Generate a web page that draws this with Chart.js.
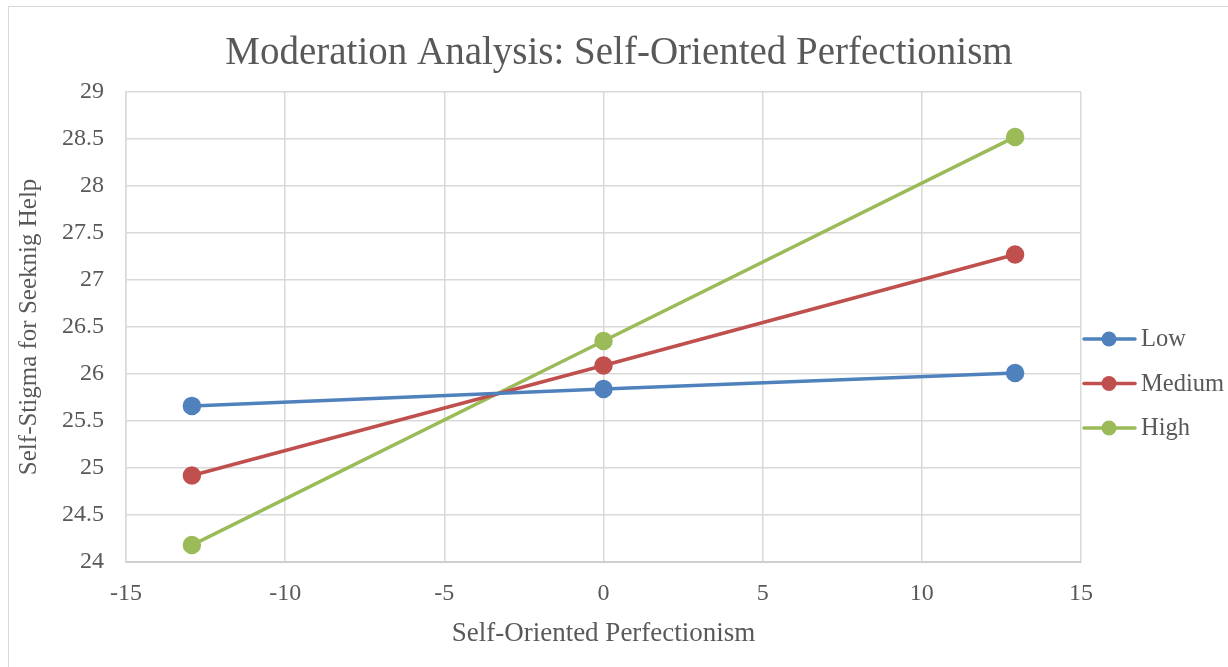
<!DOCTYPE html>
<html lang="en">
<head>
    <meta charset="UTF-8">
    <title>Moderation Analysis</title>
    <script src="https://cdn.jsdelivr.net/npm/chart.js"></script>
    <style>
        html, body { margin: 0; padding: 0; background: #fff; }
        .frame {
            position: absolute; left: 8px; top: 6px; width: 1240px; height: 680px;
            border: 1px solid #d9d9d9; box-sizing: border-box;
        }
        .wrap { position: absolute; left: 0; top: 0; width: 1228px; height: 667px; }
    </style>
</head>
<body>
    <div class="frame"></div>
    <div class="wrap"><canvas id="chart" width="1228" height="667"></canvas></div>

    <script>
        // Data
        const seriesNames = ['Low', 'Medium', 'High'];
        const xValues = [-12.93, 0, 12.93];
        const lowValues = [25.66, 25.84, 26.01];
        const mediumValues = [24.92, 26.09, 27.27];
        const highValues = [24.18, 26.35, 28.52];
        const colors = ['#4F81BD', '#C0504D', '#9BBB59'];

        const FONT = "'Liberation Serif', 'DejaVu Serif', serif";
        const TEXT = '#595959';

        function points(ys) {
            return xValues.map((x, i) => ({ x: x, y: ys[i] }));
        }

        // Excel-style legend: short line with a dot, label to the right
        const sideLegend = {
            id: 'sideLegend',
            afterDraw(chart) {
                const ctx = chart.ctx;
                ctx.save();
                chart.data.datasets.forEach((ds, i) => {
                    const y = 339 + i * 44.5;
                    ctx.strokeStyle = ds.borderColor;
                    ctx.lineWidth = 3.5;
                    ctx.lineCap = 'round';
                    ctx.beginPath();
                    ctx.moveTo(1084, y);
                    ctx.lineTo(1135, y);
                    ctx.stroke();
                    ctx.fillStyle = ds.borderColor;
                    ctx.beginPath();
                    ctx.arc(1109, y, 7.5, 0, Math.PI * 2);
                    ctx.fill();
                    ctx.fillStyle = TEXT;
                    ctx.font = '24.5px ' + FONT;
                    ctx.textBaseline = 'middle';
                    ctx.fillText(ds.label, 1141, y + 1);
                });
                ctx.restore();
            }
        };

        const ctx = document.getElementById('chart').getContext('2d');
        new Chart(ctx, {
            type: 'scatter',
            data: {
                datasets: [lowValues, mediumValues, highValues].map((ys, i) => ({
                    label: seriesNames[i],
                    data: points(ys),
                    showLine: true,
                    borderColor: colors[i],
                    backgroundColor: colors[i],
                    borderWidth: 3.5,
                    pointRadius: 7.5,
                    pointHoverRadius: 7.5
                }))
            },
            options: {
                responsive: false,
                animation: false,
                layout: { padding: { left: 10, right: 0, top: 0, bottom: 0 } },
                plugins: {
                    legend: { display: false },
                    tooltip: { enabled: false },
                    title: {
                        display: true,
                        text: 'Moderation Analysis: Self-Oriented Perfectionism',
                        color: TEXT,
                        font: { family: FONT, size: 39, weight: 'normal' },
                        padding: { top: 30, bottom: 15 }
                    }
                },
                scales: {
                    x: {
                        type: 'linear',
                        min: -15, max: 15,
                        ticks: { stepSize: 5, color: TEXT, font: { family: FONT, size: 24 }, padding: 17 },
                        grid: { color: '#d9d9d9', lineWidth: 1.5, drawTicks: false },
                        border: { color: '#cfcfcf', width: 2 },
                        title: {
                            display: true,
                            text: 'Self-Oriented Perfectionism',
                            color: TEXT,
                            font: { family: FONT, size: 27 },
                            padding: { top: 0, bottom: 17 }
                        },
                        afterFit(scale) { scale.height = 105; }
                    },
                    y: {
                        min: 24, max: 29,
                        ticks: {
                            stepSize: 0.5, color: TEXT, font: { family: FONT, size: 24 }, padding: 22,
                            callback: (v) => String(v)
                        },
                        grid: { color: '#d9d9d9', lineWidth: 1.5, drawTicks: false },
                        border: { color: '#d9d9d9', width: 1.5 },
                        title: {
                            display: true,
                            text: 'Self-Stigma for Seeknig Help',
                            color: TEXT,
                            font: { family: FONT, size: 25 },
                            padding: { top: 4, bottom: 0 }
                        },
                        afterFit(scale) { scale.width = 116; }
                    },
                    // empty right-hand box that leaves room for the legend
                    legendSpace: {
                        type: 'linear',
                        position: 'right',
                        ticks: { display: false },
                        grid: { display: false },
                        border: { display: false },
                        afterFit(scale) { scale.width = 147; }
                    }
                }
            },
            plugins: [sideLegend]
        });
    </script>
</body>
</html>
